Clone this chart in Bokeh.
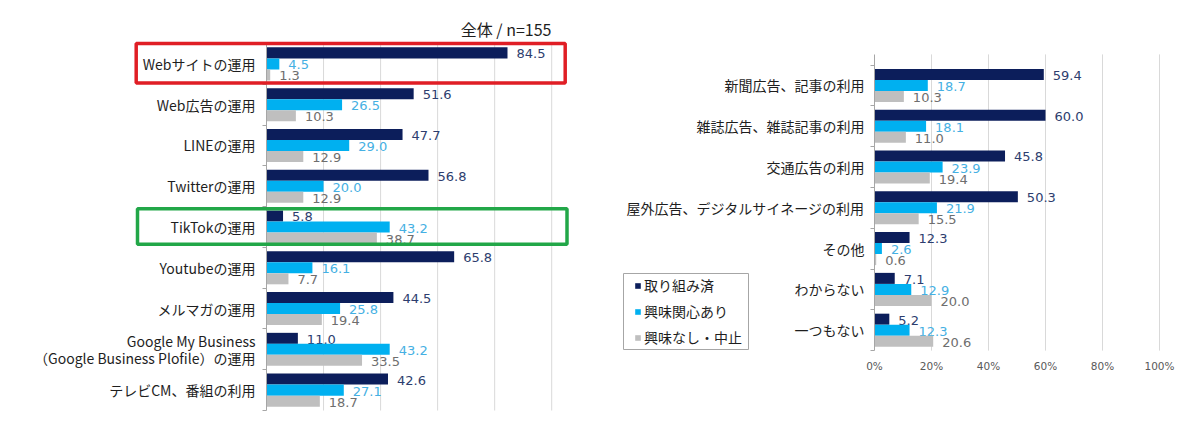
from bokeh.plotting import figure
from bokeh.layouts import row
from bokeh.models import (ColumnDataSource, FixedTicker, BoxAnnotation, Label,
                          Legend, LegendItem, Range1d)
from bokeh.core.properties import value
from bokeh.embed import file_html
from bokeh.resources import INLINE

# ---------------- data ----------------
series_names = ["取り組み済", "興味関心あり", "興味なし・中止"]

left_categories = [
    "Webサイトの運用",
    "Web広告の運用",
    "LINEの運用",
    "Twitterの運用",
    "TikTokの運用",
    "Youtubeの運用",
    "メルマガの運用",
    "Google My Business\n（Google Business Plofile）の運用",
    "テレビCM、番組の利用",
]
left_done = [84.5, 51.6, 47.7, 56.8, 5.8, 65.8, 44.5, 11.0, 42.6]
left_interest = [4.5, 26.5, 29.0, 20.0, 43.2, 16.1, 25.8, 43.2, 27.1]
left_none = [1.3, 10.3, 12.9, 12.9, 38.7, 7.7, 19.4, 33.5, 18.7]

right_categories = [
    "新聞広告、記事の利用",
    "雑誌広告、雑誌記事の利用",
    "交通広告の利用",
    "屋外広告、デジタルサイネージの利用",
    "その他",
    "わからない",
    "一つもない",
]
right_done = [59.4, 60.0, 45.8, 50.3, 12.3, 7.1, 5.2]
right_interest = [18.7, 18.1, 23.9, 21.9, 2.6, 12.9, 12.3]
right_none = [10.3, 11.0, 19.4, 15.5, 0.6, 20.0, 20.6]

x_ticks = [0, 20, 40, 60, 80, 100]
x_tick_labels = ["0%", "20%", "40%", "60%", "80%", "100%"]

title_text = "全体 / n=155"
red_highlight = "Webサイトの運用"
green_highlight = "TikTokの運用"

# ---------------- style / layout ----------------
BAR_COLORS = ["#0c1e5b", "#00b0f0", "#bfbfbf"]
TXT_COLORS = ["#2d3d6e", "#45b0e3", "#6e6e6e"]
CJK = "Noto Sans CJK JP"
NUM = "DejaVu Sans"
BAR_H = 0.27
OFFS = [-0.27, 0.0, 0.27]
W, H = 592, 414


def build(cats, s1, s2, s3, px_left, px0, px_per_pct, py_cat_top, px_per_cat,
          axis_top, standoff):
    """Frame covers the whole figure; axes are placed inside with fixed_location."""
    n = len(cats)
    idx = list(range(n))
    x_start = (px_left - px0) / px_per_pct
    x_end = (px_left + W - px0) / px_per_pct
    y_top = -0.5 - (py_cat_top - 0) / px_per_cat
    y_bot = -0.5 + (H - py_cat_top) / px_per_cat
    p = figure(width=W, height=H, output_backend="svg", toolbar_location=None,
               title=None,
               x_range=Range1d(x_start, x_end), y_range=Range1d(y_bot, y_top),
               min_border_left=0, min_border_right=0,
               min_border_top=0, min_border_bottom=0)
    p.outline_line_color = None
    p.background_fill_color = "white"
    p.border_fill_color = "white"
    p.xgrid.grid_line_color = None
    p.ygrid.grid_line_color = None

    # vertical gridlines limited to the plot area
    gx = x_ticks[1:]
    p.segment(x0=gx, x1=gx, y0=[axis_top] * len(gx), y1=[n - 0.5] * len(gx),
              line_color="#d9d9d9", line_width=1)

    renderers = []
    for k, vals in enumerate([s1, s2, s3]):
        ys = [i + OFFS[k] for i in idx]
        src = ColumnDataSource(dict(y=ys, v=vals, t=["%.1f" % v for v in vals]))
        r = p.hbar(y="y", left=0, right="v", height=BAR_H, source=src,
                   fill_color=BAR_COLORS[k], line_color=None)
        renderers.append(r)
        p.text(x="v", y="y", text="t", source=src, x_offset=9, y_offset=1,
               text_baseline="middle", text_align="left",
               text_font=value(NUM), text_font_size="13px",
               text_color=TXT_COLORS[k])

    # y axis (inside the frame at x = 0)
    yax = p.yaxis[0]
    yax.fixed_location = 0
    yax.bounds = (axis_top, n - 0.5)
    yax.ticker = FixedTicker(ticks=idx, minor_ticks=[i - 0.5 for i in range(n + 1)])
    yax.major_label_overrides = {i: c for i, c in enumerate(cats)}
    yax.major_label_text_font = CJK
    yax.major_label_text_font_size = "14px"
    yax.major_label_text_color = "#1e1e1e"
    yax.major_label_text_line_height = 0.87
    yax.major_label_standoff = standoff
    yax.major_tick_out = 0
    yax.major_tick_in = 0
    yax.minor_tick_out = 4
    yax.minor_tick_in = 0
    yax.axis_line_color = "#a6a6a6"
    yax.minor_tick_line_color = "#a6a6a6"

    # x axis (inside the frame at the bottom of the categories)
    xax = p.xaxis[0]
    xax.fixed_location = n - 0.5
    xax.bounds = (x_ticks[0], x_ticks[-1])
    xax.ticker = FixedTicker(ticks=x_ticks)
    xax.major_label_overrides = {t: l for t, l in zip(x_ticks, x_tick_labels)}
    xax.axis_line_color = None
    xax.major_tick_line_color = None
    xax.minor_tick_line_color = None
    xax.major_tick_out = 0
    xax.major_tick_in = 0
    xax.minor_tick_out = 0
    xax.minor_tick_in = 0
    xax.major_label_standoff = 9
    xax.major_label_text_font = NUM
    xax.major_label_text_font_size = "10.5px"
    xax.major_label_text_color = "#595959"

    def to_x(px):
        return (px - px0) / px_per_pct

    def to_y(py):
        return -0.5 + (py - py_cat_top) / px_per_cat

    return p, renderers, to_x, to_y


# left panel (image x 0..592)
p1, _, lx, ly = build(left_categories, left_done, left_interest, left_none,
                      px_left=0, px0=266, px_per_pct=2.852, py_cat_top=43,
                      px_per_cat=40.78, axis_top=-0.5, standoff=7)
p1.xaxis.visible = False
p1.add_layout(Label(x=lx(551), y=ly(28), text=title_text, text_align="right",
                    text_baseline="middle", text_font=CJK,
                    text_font_size="16px", text_color="#1e1e1e"))

ri = left_categories.index(red_highlight)
p1.add_layout(BoxAnnotation(left=lx(135.7), right=lx(564.7), top=ri - 0.5, bottom=ri + 0.47,
                            fill_color=None, fill_alpha=0, line_color="#e01e25",
                            line_alpha=1, line_width=3.5))
gi = left_categories.index(green_highlight)
p1.add_layout(BoxAnnotation(left=lx(137), right=lx(566.5), top=gi - 0.45, bottom=gi + 0.42,
                            fill_color=None, fill_alpha=0, line_color="#22a748",
                            line_alpha=1, line_width=3.5))

# right panel (image x 592..1184)
p2, rr, rx, ry = build(right_categories, right_done, right_interest, right_none,
                       px_left=592, px0=874, px_per_pct=2.85, py_cat_top=64.5,
                       px_per_cat=40.8, axis_top=-0.76, standoff=6)

# legend frame
p2.add_layout(BoxAnnotation(left=rx(623), right=rx(748), top=ry(273), bottom=ry(349),
                            fill_color="white", fill_alpha=1, line_color="#a6a6a6",
                            line_alpha=1, line_width=1))
legend = Legend(items=[LegendItem(label=nm, renderers=[r]) for nm, r in zip(series_names, rr)],
                location=(634 - 592, H - 347))
legend.label_text_font = CJK
legend.label_text_font_size = "14px"
legend.label_text_color = "#1e1e1e"
legend.glyph_width = 7
legend.glyph_height = 7
legend.label_standoff = 3
legend.label_height = 18
legend.spacing = 6
legend.padding = 2
legend.margin = 0
legend.border_line_color = None
legend.background_fill_alpha = 0
p2.add_layout(legend, "center")

layout = row(p1, p2)
open("out.html", "w").write(file_html(layout, INLINE))
